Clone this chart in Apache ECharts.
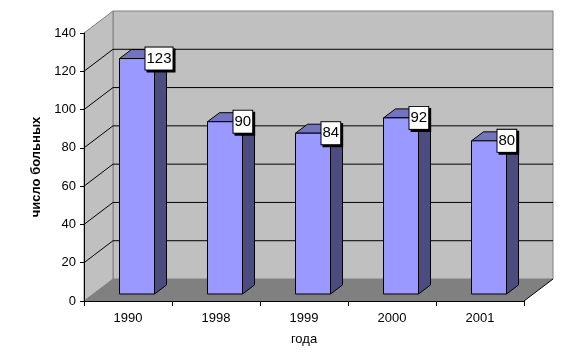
<!DOCTYPE html>
<html>
<head>
<meta charset="utf-8">
<script src="https://cdn.jsdelivr.net/npm/echarts@6/dist/echarts.min.js"></script>
<style>
html,body{margin:0;padding:0;background:#fff;}
#chart{width:582px;height:362px;}
</style>
</head>
<body>
<div id="chart"></div>
<script>
// ---- data ----
var categories = ['1990', '1998', '1999', '2000', '2001'];
var values = [123, 90, 84, 92, 80];
var yTicks = [0, 20, 40, 60, 80, 100, 120, 140];
var xTitle = 'года';
var yTitle = 'число больных';

// ---- 3D look constants (pixels) ----
var WALL_DX = 29, WALL_DY = -22;
var BAR_DX = 9, BAR_DY = -7;
var SIDE_DX = 12, SIDE_DY = -9;
var BAR_W = 35;
var FONT = '"Liberation Sans", Arial, sans-serif';

var chart = echarts.init(document.getElementById('chart'), null, {renderer: 'canvas'});

function renderWalls(params, api) {
  var cs = params.coordSys;
  var xl = cs.x, xr = cs.x + cs.width;
  var yOf = function (v) { return api.coord([0, v])[1]; };
  var y0 = yOf(yTicks[0]);
  var yMax = yOf(yTicks[yTicks.length - 1]);
  var children = [];
  // back wall
  children.push({type: 'polygon', shape: {points: [
    [xl + WALL_DX, yMax + WALL_DY], [xr + WALL_DX, yMax + WALL_DY],
    [xr + WALL_DX, y0 + WALL_DY], [xl + WALL_DX, y0 + WALL_DY]]},
    style: {fill: '#c0c0c0', stroke: '#808080', lineWidth: 1}});
  // left wall
  children.push({type: 'polygon', shape: {points: [
    [xl, yMax], [xl + WALL_DX, yMax + WALL_DY], [xl + WALL_DX, y0 + WALL_DY], [xl, y0]]},
    style: {fill: '#c0c0c0', stroke: '#808080', lineWidth: 1}});
  // gridlines
  for (var k = 1; k < yTicks.length - 1; k++) {
    var y = yOf(yTicks[k]);
    children.push({type: 'line', shape: {x1: xl + WALL_DX, y1: y + WALL_DY, x2: xr + WALL_DX, y2: y + WALL_DY},
      style: {stroke: '#000', lineWidth: 1}});
    children.push({type: 'line', shape: {x1: xl, y1: y, x2: xl + WALL_DX, y2: y + WALL_DY},
      style: {stroke: '#000', lineWidth: 1}});
  }
  // floor
  children.push({type: 'polygon', shape: {points: [
    [xl, y0], [xr, y0], [xr + WALL_DX, y0 + WALL_DY], [xl + WALL_DX, y0 + WALL_DY]]},
    style: {fill: '#808080'}});
  children.push({type: 'line', shape: {x1: xr, y1: y0, x2: xr + WALL_DX, y2: y0 + WALL_DY},
    style: {stroke: '#000', lineWidth: 1}});
  return {type: 'group', children: children};
}

function renderBar(params, api) {
  var i = api.value(0), v = api.value(1);
  var base = api.coord([i, 0]), top = api.coord([i, v]);
  var cx = base[0] + BAR_DX;
  var x0 = cx - BAR_W / 2, x1 = cx + BAR_W / 2;
  var yb = base[1] + BAR_DY, yt = top[1] + BAR_DY;
  var stroke = {stroke: '#000', lineWidth: 1, lineJoin: 'miter'};
  return {type: 'group', children: [
    {type: 'polygon', shape: {points: [[x1, yt], [x1 + SIDE_DX, yt + SIDE_DY], [x1 + SIDE_DX, yb + SIDE_DY], [x1, yb]]},
      style: Object.assign({fill: '#4c4c80'}, stroke)},
    {type: 'polygon', shape: {points: [[x0, yt], [x0 + SIDE_DX, yt + SIDE_DY], [x1 + SIDE_DX, yt + SIDE_DY], [x1, yt]]},
      style: Object.assign({fill: '#7373bf'}, stroke)},
    {type: 'rect', shape: {x: x0, y: yt, width: BAR_W, height: yb - yt},
      style: Object.assign({fill: '#9999ff'}, stroke)},
    {type: 'text', x: x1 - 9, y: yt, z2: 10,
      style: {text: String(v), font: '15px ' + FONT, fill: '#000', align: 'left', verticalAlign: 'middle',
        backgroundColor: '#fff', borderColor: '#000', borderWidth: 1, padding: [4, 1, 3, 1],
        shadowColor: '#000', shadowOffsetX: 2, shadowOffsetY: 2, shadowBlur: 0}}
  ]};
}

var option = {
  backgroundColor: '#fff',
  animation: false,
  grid: {left: 84, right: 58, top: 33, bottom: 61, containLabel: false, outerBoundsMode: 'none'},
  xAxis: {
    type: 'category', data: categories, z: 5,
    axisLine: {show: true, lineStyle: {color: '#000', width: 1}},
    axisTick: {show: true, length: 5, alignWithLabel: false, lineStyle: {color: '#000'}},
    axisLabel: {color: '#000', fontSize: 13, fontFamily: FONT, margin: 11},
    splitLine: {show: false},
    name: xTitle, nameLocation: 'middle', nameGap: 32,
    nameTextStyle: {color: '#000', fontSize: 13, fontFamily: FONT}
  },
  yAxis: {
    type: 'value', min: yTicks[0], max: yTicks[yTicks.length - 1], interval: 20, z: 5,
    axisLine: {show: true, lineStyle: {color: '#000', width: 1}},
    axisTick: {show: true, length: 4, lineStyle: {color: '#000'}},
    axisLabel: {color: '#000', fontSize: 13, fontFamily: FONT, margin: 8},
    splitLine: {show: false},
    name: yTitle, nameLocation: 'middle', nameGap: 34,
    nameTextStyle: {color: '#000', fontSize: 13, fontWeight: 'bold', fontFamily: FONT}
  },
  series: [
    {type: 'custom', z: 1, silent: true, clip: false, renderItem: renderWalls, data: [[0, 0]],
      encode: {x: 0, y: 1}},
    {type: 'custom', z: 2, clip: false, renderItem: renderBar,
      data: values.map(function (v, i) { return [i, v]; }), encode: {x: 0, y: 1}}
  ]
};
chart.setOption(option);
</script>
</body>
</html>
